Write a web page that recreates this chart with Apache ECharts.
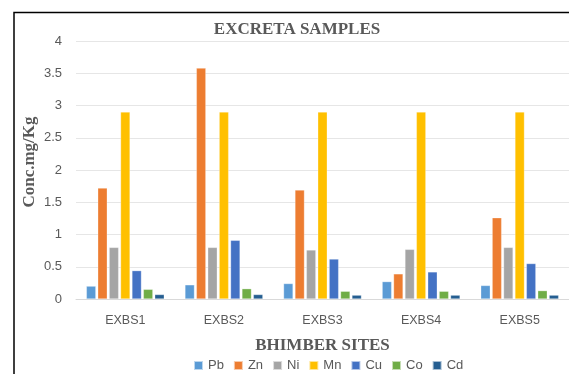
<!DOCTYPE html>
<html>
<head>
<meta charset="utf-8">
<script src="https://cdn.jsdelivr.net/npm/echarts@6/dist/echarts.min.js"></script>
<style>
  html, body { margin: 0; padding: 0; background: #fff; }
  #chart { width: 569px; height: 374px; }
</style>
</head>
<body>
<div id="chart"></div>
<script>
// Sampling sites (x-axis categories)
const sites = ['EXBS1', 'EXBS2', 'EXBS3', 'EXBS4', 'EXBS5'];

// Metal concentrations (mg/Kg) per site
const pb = [0.20, 0.22, 0.24, 0.27, 0.21];
const zn = [1.72, 3.58, 1.69, 0.39, 1.26];
const ni = [0.80, 0.80, 0.76, 0.77, 0.80];
const mn = [2.90, 2.90, 2.90, 2.90, 2.90];
const cu = [0.44, 0.91, 0.62, 0.42, 0.55];
const co = [0.15, 0.16, 0.12, 0.12, 0.13];
const cd = [0.07, 0.07, 0.06, 0.06, 0.06];

const metals = ['Pb', 'Zn', 'Ni', 'Mn', 'Cu', 'Co', 'Cd'];
const values = [pb, zn, ni, mn, cu, co, cd];
const colors = ['#5B9BD5', '#ED7D31', '#A5A5A5', '#FFC000', '#4472C4', '#70AD47', '#255E91'];

const sans = 'Liberation Sans, Arial, sans-serif';
const serif = 'Liberation Serif, Times New Roman, serif';

const chart = echarts.init(document.getElementById('chart'), null, { renderer: 'canvas' });

chart.setOption({
  animation: false,
  color: colors,
  title: {
    text: 'EXCRETA SAMPLES',
    left: 297,
    top: 21,
    padding: 0,
    textAlign: 'center',
    textStyle: { fontFamily: serif, fontWeight: 'bold', fontSize: 17, color: '#595959' }
  },
  legend: {
    data: metals,
    left: 188,
    top: 354,
    itemWidth: 9,
    itemHeight: 9,
    itemGap: 9,
    icon: 'rect',
    textStyle: { fontFamily: sans, fontSize: 13, color: '#595959' }
  },
  grid: { left: 76, top: 41, width: 494, height: 258, containLabel: false },
  graphic: [{
    type: 'rect',
    shape: { x: 14, y: 12.5, width: 700, height: 500 },
    style: { fill: 'none', stroke: '#000', lineWidth: 1.5 },
    silent: true,
    z: 100
  }],
  xAxis: {
    type: 'category',
    data: sites,
    name: 'BHIMBER SITES',
    nameLocation: 'middle',
    nameGap: 38,
    nameMoveOverlap: false,
    nameTextStyle: { fontFamily: serif, fontWeight: 'bold', fontSize: 17, color: '#595959' },
    axisLine: { lineStyle: { color: '#d9d9d9' } },
    axisTick: { show: false },
    axisLabel: { fontFamily: sans, fontSize: 12.5, color: '#595959', margin: 15 }
  },
  yAxis: {
    type: 'value',
    min: 0,
    max: 4,
    interval: 0.5,
    name: 'Conc.mg/Kg',
    nameLocation: 'middle',
    nameGap: 38,
    nameMoveOverlap: false,
    nameRotate: 90,
    nameTextStyle: { fontFamily: serif, fontWeight: 'bold', fontSize: 17, color: '#595959', padding: [0, 0, 0, 16] },
    axisLine: { show: false },
    axisTick: { show: false },
    axisLabel: { fontFamily: sans, fontSize: 13, color: '#595959', margin: 14 },
    splitLine: { lineStyle: { color: '#e6e6e6' } }
  },
  series: metals.map((m, i) => ({
    name: m,
    type: 'bar',
    data: values[i],
    barWidth: 9.5,
    barGap: '20%',
    itemStyle: { borderColor: 'rgba(255,255,255,0.6)', borderWidth: 0.5 }
  }))
});
</script>
</body>
</html>
